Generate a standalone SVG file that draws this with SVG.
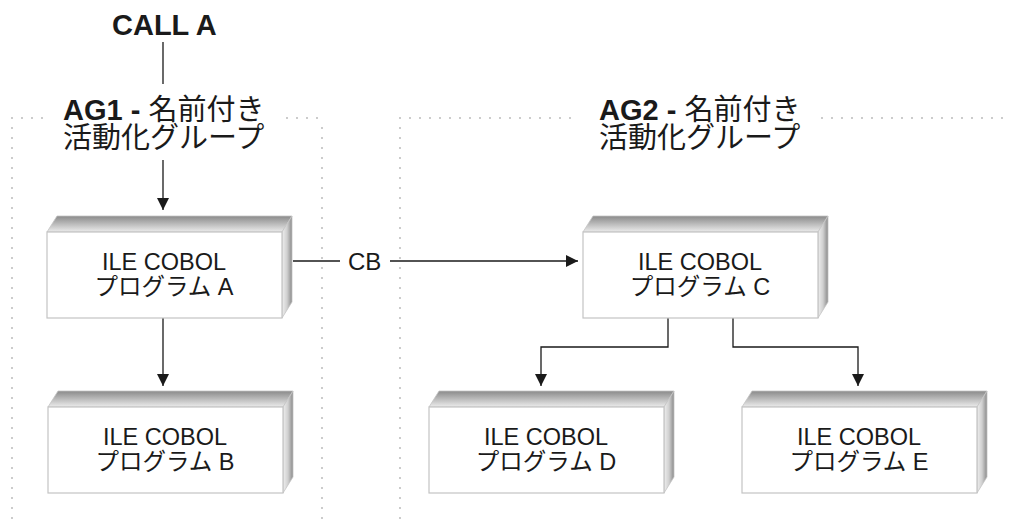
<svg xmlns="http://www.w3.org/2000/svg" width="1009" height="522" viewBox="0 0 1009 522">
<style>
.t{font-family:'Liberation Sans','Noto Sans CJK JP',sans-serif;fill:#1a1a1a}
.title{font-size:29px}
.b{font-weight:bold}
.node{font-size:23.5px;text-anchor:middle}
.line{stroke:#1a1a1a;stroke-width:1.3;fill:none}
.dot{stroke:#888;stroke-width:1.6;stroke-linecap:round;stroke-dasharray:0 10;fill:none}
.front{fill:#fff;stroke:#c4c4c4;stroke-width:1.2}
.top{fill:url(#gTop);stroke:#c4c4c4;stroke-width:0.8}
.side{fill:url(#gSide);stroke:#c4c4c4;stroke-width:0.8}
</style>
<defs>
<linearGradient id="gTop" x1="0" y1="0" x2="0" y2="1">
<stop offset="0" stop-color="#8a8a8a"/>
<stop offset="1" stop-color="#ececec"/>
</linearGradient>
<linearGradient id="gSide" x1="0" y1="0" x2="1" y2="0">
<stop offset="0" stop-color="#eeeeee"/>
<stop offset="0.5" stop-color="#d0d0d0"/>
<stop offset="1" stop-color="#8a8a8a"/>
</linearGradient>
<marker id="arr" viewBox="0 0 12 12" refX="12" refY="6" markerWidth="12" markerHeight="12" markerUnits="userSpaceOnUse" orient="auto">
<path d="M0,0 L12,6 L0,12 Z" fill="#1a1a1a"/>
</marker>
<g id="box">
<polygon class="top" points="0,0 10,-16 245,-16 235,0"/>
<polygon class="side" points="235,0 245,-16 245,70 235,86"/>
<rect class="front" x="0" y="0" width="235" height="86"/>
</g>
</defs>

<g id="groups">
<path class="dot" d="M12,118 H45 M287,118 H322 M12,128 V522 M322,128 V522"/>
<path class="dot" d="M400,118 H572 M822,118 H1009 M400,128 V522"/>
</g>

<g id="call">
<text class="t title b" x="112" y="35">CALL A</text>
</g>

<g id="ag1label">
<text class="t title" x="63" y="120"><tspan class="b">AG1 - </tspan>名前付き<tspan x="63" dy="28">活動化グループ</tspan></text>
</g>

<g id="ag2label">
<text class="t title" x="599" y="120"><tspan class="b">AG2 - </tspan>名前付き<tspan x="599" dy="28">活動化グループ</tspan></text>
</g>

<g id="connectors">
<line class="line" x1="163" y1="42" x2="163" y2="84"/>
<line class="line" x1="163" y1="160" x2="163" y2="210" marker-end="url(#arr)"/>
<line class="line" x1="163" y1="318" x2="163" y2="386" marker-end="url(#arr)"/>
<line class="line" x1="293" y1="261" x2="340" y2="261"/>
<line class="line" x1="390" y1="261" x2="578" y2="261" marker-end="url(#arr)"/>
<polyline class="line" points="668,318 668,347 541,347 541,386" marker-end="url(#arr)"/>
<polyline class="line" points="733,318 733,347 858,347 858,386" marker-end="url(#arr)"/>
<text class="t" x="348" y="270" font-size="24">CB</text>
</g>

<g id="nodeA">
<use href="#box" x="47" y="232"/>
<text class="t node" x="164" y="270">ILE COBOL<tspan x="164" dy="25">プログラム A</tspan></text>
</g>
<g id="nodeB">
<use href="#box" x="48" y="407"/>
<text class="t node" x="165" y="445">ILE COBOL<tspan x="165" dy="25">プログラム B</tspan></text>
</g>
<g id="nodeC">
<use href="#box" x="583" y="232"/>
<text class="t node" x="700" y="270">ILE COBOL<tspan x="700" dy="25">プログラム C</tspan></text>
</g>
<g id="nodeD">
<use href="#box" x="429" y="407"/>
<text class="t node" x="546" y="445">ILE COBOL<tspan x="546" dy="25">プログラム D</tspan></text>
</g>
<g id="nodeE">
<use href="#box" x="742" y="407"/>
<text class="t node" x="859" y="445">ILE COBOL<tspan x="859" dy="25">プログラム E</tspan></text>
</g>
</svg>
